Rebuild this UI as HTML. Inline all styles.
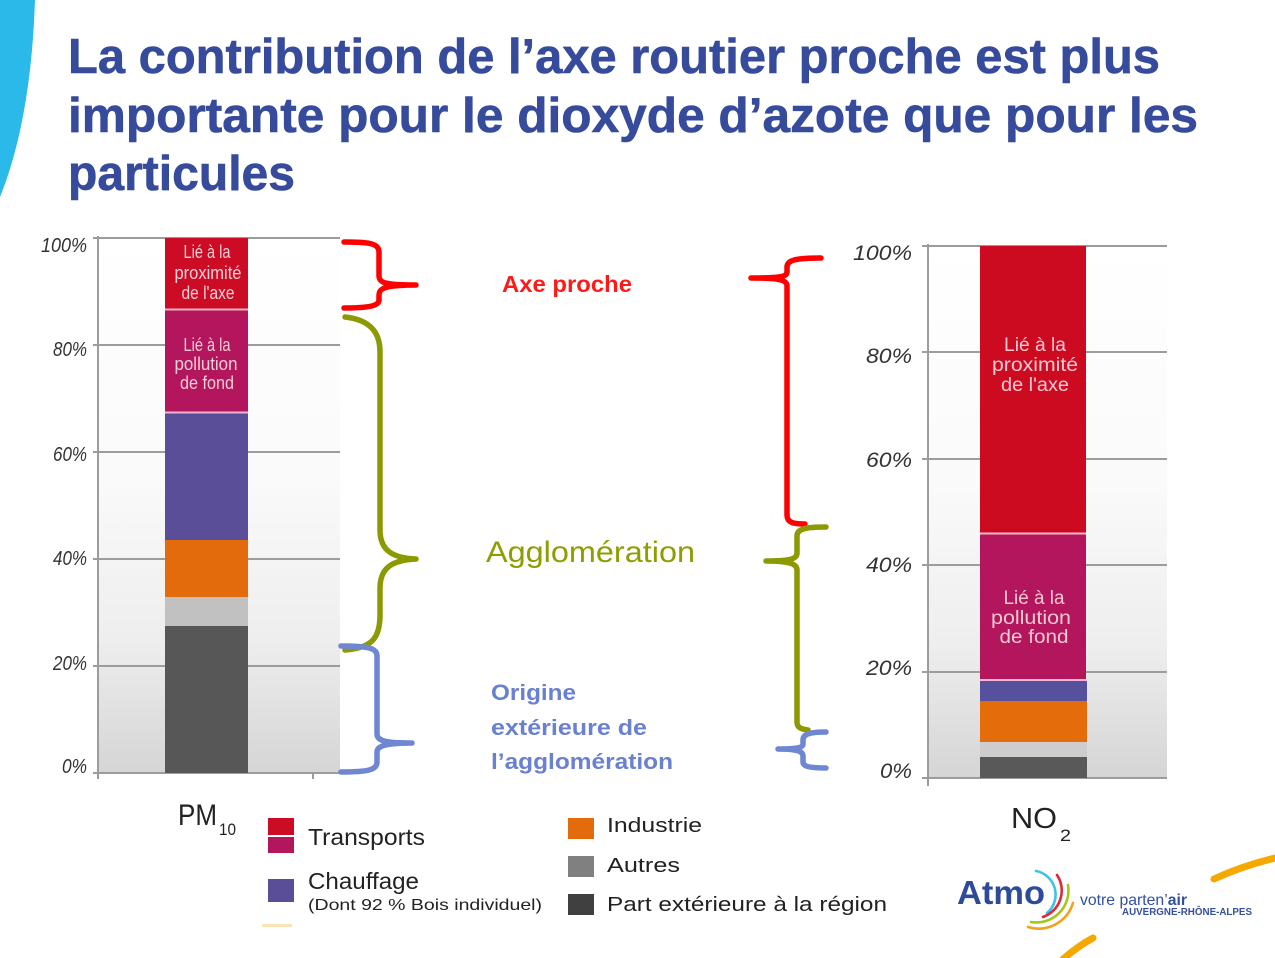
<!DOCTYPE html>
<html><head><meta charset="utf-8"><style>
html,body{margin:0;padding:0;background:#fff;}
svg{display:block;}
text{font-family:"Liberation Sans",sans-serif;}
</style></head><body>
<svg width="1275" height="958" viewBox="0 0 1275 958" xmlns="http://www.w3.org/2000/svg">
<defs>
<linearGradient id="bgL" x1="0" y1="238" x2="0" y2="773" gradientUnits="userSpaceOnUse">
<stop offset="0" stop-color="#ffffff"/><stop offset="0.45" stop-color="#fafafa"/><stop offset="0.75" stop-color="#eeeeee"/><stop offset="1" stop-color="#d5d5d5"/></linearGradient>
<linearGradient id="bgR" x1="0" y1="246" x2="0" y2="778" gradientUnits="userSpaceOnUse">
<stop offset="0" stop-color="#ffffff"/><stop offset="0.45" stop-color="#fafafa"/><stop offset="0.75" stop-color="#eeeeee"/><stop offset="1" stop-color="#d5d5d5"/></linearGradient>
</defs>
<rect width="1275" height="958" fill="#fff"/>
<!-- cyan shape -->
<path d="M0,0 L35,0 Q31,120 0,197 Z" fill="#2bb9e9"/>
<!-- Title -->
<g fill="#364b9b" font-weight="bold" font-size="49" stroke="#364b9b" stroke-width="0.6">
<text x="68" y="73" textLength="1092" lengthAdjust="spacingAndGlyphs">La contribution de l’axe routier proche est plus</text>
<text x="68" y="132" textLength="1130" lengthAdjust="spacingAndGlyphs">importante pour le dioxyde d’azote que pour les</text>
<text x="68" y="190" textLength="227" lengthAdjust="spacingAndGlyphs">particules</text>
</g>

<!-- LEFT CHART -->
<rect x="98" y="238" width="242" height="535" fill="url(#bgL)"/>
<g stroke="#9c9c9c" stroke-width="2">
<line x1="93" y1="238" x2="340" y2="238"/>
<line x1="93" y1="345" x2="340" y2="345"/>
<line x1="93" y1="452" x2="340" y2="452"/>
<line x1="93" y1="559" x2="340" y2="559"/>
<line x1="93" y1="666" x2="340" y2="666"/>
<line x1="93" y1="773" x2="340" y2="773"/>
<line x1="98" y1="236" x2="98" y2="779"/>
<line x1="313" y1="773" x2="313" y2="779"/>
</g>
<g fill="#333" font-style="italic" font-size="20" text-anchor="end">
<text x="87" y="252" textLength="46" lengthAdjust="spacingAndGlyphs">100%</text>
<text x="87" y="356" textLength="34" lengthAdjust="spacingAndGlyphs">80%</text>
<text x="87" y="461" textLength="34" lengthAdjust="spacingAndGlyphs">60%</text>
<text x="87" y="565" textLength="34" lengthAdjust="spacingAndGlyphs">40%</text>
<text x="87" y="670" textLength="34" lengthAdjust="spacingAndGlyphs">20%</text>
<text x="87" y="773" textLength="25" lengthAdjust="spacingAndGlyphs">0%</text>
</g>
<!-- PM10 bar -->
<rect x="165" y="238" width="83" height="71" fill="#cc0c24"/>
<rect x="165" y="309" width="83" height="104" fill="#b4165d"/>
<rect x="165" y="413" width="83" height="127" fill="#5a4e98"/>
<rect x="165" y="540" width="83" height="57" fill="#e46b0b"/>
<rect x="165" y="597" width="83" height="29" fill="#c1c1c1"/>
<rect x="165" y="626" width="83" height="147" fill="#575757"/>
<line x1="165" y1="309.5" x2="248" y2="309.5" stroke="#f1b4c4" stroke-width="2"/>
<line x1="165" y1="412.5" x2="248" y2="412.5" stroke="#efb6d2" stroke-width="2"/>
<g fill="#f7cdd6" font-size="18" text-anchor="middle">
<text x="207" y="258" textLength="47" lengthAdjust="spacingAndGlyphs">Lié à la</text>
<text x="208" y="279" textLength="67" lengthAdjust="spacingAndGlyphs">proximité</text>
<text x="208" y="299" textLength="53" lengthAdjust="spacingAndGlyphs">de l'axe</text>
<text x="207" y="351" textLength="47" lengthAdjust="spacingAndGlyphs">Lié à la</text>
<text x="206" y="370" textLength="63" lengthAdjust="spacingAndGlyphs">pollution</text>
<text x="207" y="389" textLength="54" lengthAdjust="spacingAndGlyphs">de fond</text>
</g>
<text x="178" y="825" font-size="30" fill="#222" textLength="39" lengthAdjust="spacingAndGlyphs">PM</text>
<text x="219" y="835" font-size="17" fill="#222" textLength="17" lengthAdjust="spacingAndGlyphs">10</text>

<!-- RIGHT CHART -->
<rect x="928" y="246" width="239" height="532" fill="url(#bgR)"/>
<g stroke="#9c9c9c" stroke-width="2">
<line x1="922" y1="246" x2="1167" y2="246"/>
<line x1="922" y1="352" x2="1167" y2="352"/>
<line x1="922" y1="459" x2="1167" y2="459"/>
<line x1="922" y1="565" x2="1167" y2="565"/>
<line x1="922" y1="672" x2="1167" y2="672"/>
<line x1="922" y1="778" x2="1167" y2="778"/>
<line x1="928" y1="244" x2="928" y2="786"/>
</g>
<g fill="#333" font-style="italic" font-size="21" text-anchor="end">
<text x="912" y="260" textLength="59" lengthAdjust="spacingAndGlyphs">100%</text>
<text x="912" y="363" textLength="46" lengthAdjust="spacingAndGlyphs">80%</text>
<text x="912" y="467" textLength="46" lengthAdjust="spacingAndGlyphs">60%</text>
<text x="912" y="572" textLength="46" lengthAdjust="spacingAndGlyphs">40%</text>
<text x="912" y="675" textLength="46" lengthAdjust="spacingAndGlyphs">20%</text>
<text x="912" y="778" textLength="32" lengthAdjust="spacingAndGlyphs">0%</text>
</g>
<rect x="980" y="246" width="106" height="287" fill="#cc0a20"/>
<rect x="980" y="533" width="106" height="147" fill="#b3165d"/>
<rect x="980" y="680" width="107" height="21" fill="#56519c"/>
<rect x="980" y="701" width="107" height="41" fill="#e46c0b"/>
<rect x="980" y="742" width="107" height="15" fill="#cdcdcd"/>
<rect x="980" y="757" width="107" height="21" fill="#595959"/>
<line x1="980" y1="533.5" x2="1086" y2="533.5" stroke="#f3b9c8" stroke-width="2"/>
<line x1="980" y1="680" x2="1087" y2="680" stroke="#efb9d6" stroke-width="2"/>
<g fill="#f6c8d3" font-size="19" text-anchor="middle">
<text x="1035" y="351" textLength="62" lengthAdjust="spacingAndGlyphs">Lié à la</text>
<text x="1035" y="371" textLength="86" lengthAdjust="spacingAndGlyphs">proximité</text>
<text x="1035" y="391" textLength="68" lengthAdjust="spacingAndGlyphs">de l'axe</text>
<text x="1034" y="604" textLength="61" lengthAdjust="spacingAndGlyphs">Lié à la</text>
<text x="1031" y="624" textLength="80" lengthAdjust="spacingAndGlyphs">pollution</text>
<text x="1034" y="643" textLength="69" lengthAdjust="spacingAndGlyphs">de fond</text>
</g>
<text x="1011" y="828" font-size="29" fill="#222" textLength="46" lengthAdjust="spacingAndGlyphs">NO</text>
<text x="1060" y="841" font-size="17" fill="#222" textLength="11" lengthAdjust="spacingAndGlyphs">2</text>

<!-- BRACKETS LEFT -->
<g fill="none" stroke-width="5.5" stroke-linecap="round" stroke-linejoin="round">
<path stroke="#ff0000" d="M344,242 C368,242 379,243 379,252 L379,276 C379,283 386,285 416,285 C386,285 379,288 379,295 L379,300 C379,306 368,308 344,308"/>
<path stroke="#8a9a00" d="M345,317 C372,320 380,334 380,352 L380,530 C380,550 392,558 416,559 C392,560 380,568 380,588 L380,615 C380,640 370,648 345,650"/>
<path stroke="#6f86d3" d="M341,646 C368,646 377,648 377,656 L377,734 C377,741 386,743 412,743 C386,743 377,746 377,752 L377,762 C377,770 368,772 341,772"/>
</g>
<!-- BRACKETS RIGHT -->
<g fill="none" stroke-width="5.5" stroke-linecap="round" stroke-linejoin="round">
<path stroke="#ff0000" d="M821,258 C796,258 787,260 787,267 L787,272 C787,277 780,278 751,278 C780,278 787,280 787,286 L787,515 C787,522 792,524 805,524"/>
<path stroke="#8a9a00" d="M826,527 C805,527 797,529 797,536 L797,553 C797,559 790,561 766,561 C790,561 797,564 797,570 L797,722 C797,727 800,729 808,730"/>
<path stroke="#6f86d3" d="M826,732 C810,732 803,734 803,740 L803,744 C803,748 796,749 778,749 C796,749 803,751 803,756 L803,762 C803,767 812,768 826,768"/>
</g>

<!-- Annotation labels -->
<text x="502" y="292" font-size="23" font-weight="bold" fill="#ff1a1a" textLength="130" lengthAdjust="spacingAndGlyphs">Axe proche</text>
<text x="486" y="562" font-size="30" fill="#8e9d00" textLength="209" lengthAdjust="spacingAndGlyphs">Agglomération</text>
<g font-size="22" font-weight="bold" fill="#6a80d0">
<text x="491" y="700" textLength="85" lengthAdjust="spacingAndGlyphs">Origine</text>
<text x="491" y="735" textLength="156" lengthAdjust="spacingAndGlyphs">extérieure de</text>
<text x="491" y="769" textLength="182" lengthAdjust="spacingAndGlyphs">l’agglomération</text>
</g>

<!-- LEGEND -->
<rect x="268" y="818" width="26" height="17" fill="#cc0c24"/>
<rect x="268" y="837" width="26" height="16" fill="#b4165d"/>
<rect x="268" y="879" width="26" height="23" fill="#5a4e98"/>
<rect x="568" y="818" width="26" height="21" fill="#e46b0b"/>
<rect x="568" y="856" width="26" height="21" fill="#808080"/>
<rect x="568" y="894" width="26" height="21" fill="#404040"/>
<rect x="262" y="924" width="30" height="3" fill="#fbe3b8"/>
<g fill="#222">
<text x="308" y="845" font-size="23" textLength="117" lengthAdjust="spacingAndGlyphs">Transports</text>
<text x="308" y="889" font-size="23" textLength="111" lengthAdjust="spacingAndGlyphs">Chauffage</text>
<text x="308" y="910" font-size="16" textLength="234" lengthAdjust="spacingAndGlyphs">(Dont 92 % Bois individuel)</text>
<text x="607" y="832" font-size="20" textLength="95" lengthAdjust="spacingAndGlyphs">Industrie</text>
<text x="607" y="872" font-size="20" textLength="73" lengthAdjust="spacingAndGlyphs">Autres</text>
<text x="607" y="911" font-size="20" textLength="280" lengthAdjust="spacingAndGlyphs">Part extérieure à la région</text>
</g>

<!-- LOGO -->
<text x="957" y="904" font-size="33" font-weight="bold" fill="#2e4b9b" textLength="88" lengthAdjust="spacingAndGlyphs">Atmo</text>
<g fill="none" stroke-width="2.6" stroke-linecap="round">
<path stroke="#3cc3ea" d="M1036,871 A24 24 0 0 1 1047,913"/>
<path stroke="#e0283a" d="M1057,875 A28 28 0 0 1 1043,917"/>
<path stroke="#a6c61c" d="M1068,885 A32 32 0 0 1 1031,922"/>
<path stroke="#f2a21b" d="M1073,903 A36 36 0 0 1 1028,927"/>
</g>
<text x="1080" y="905" font-size="16" fill="#3450a0" textLength="107" lengthAdjust="spacingAndGlyphs">votre parten’<tspan font-weight="bold">air</tspan></text>
<text x="1122" y="915" font-size="10" font-weight="bold" fill="#3450a0" textLength="130" lengthAdjust="spacingAndGlyphs">AUVERGNE-RHÔNE-ALPES</text>
<g fill="none" stroke="#f5a800" stroke-width="7" stroke-linecap="round">
<path d="M1214,879 Q1242,866 1275,858"/>
<path d="M1062,960 Q1078,946 1093,938"/>
</g>
</svg>
</body></html>
